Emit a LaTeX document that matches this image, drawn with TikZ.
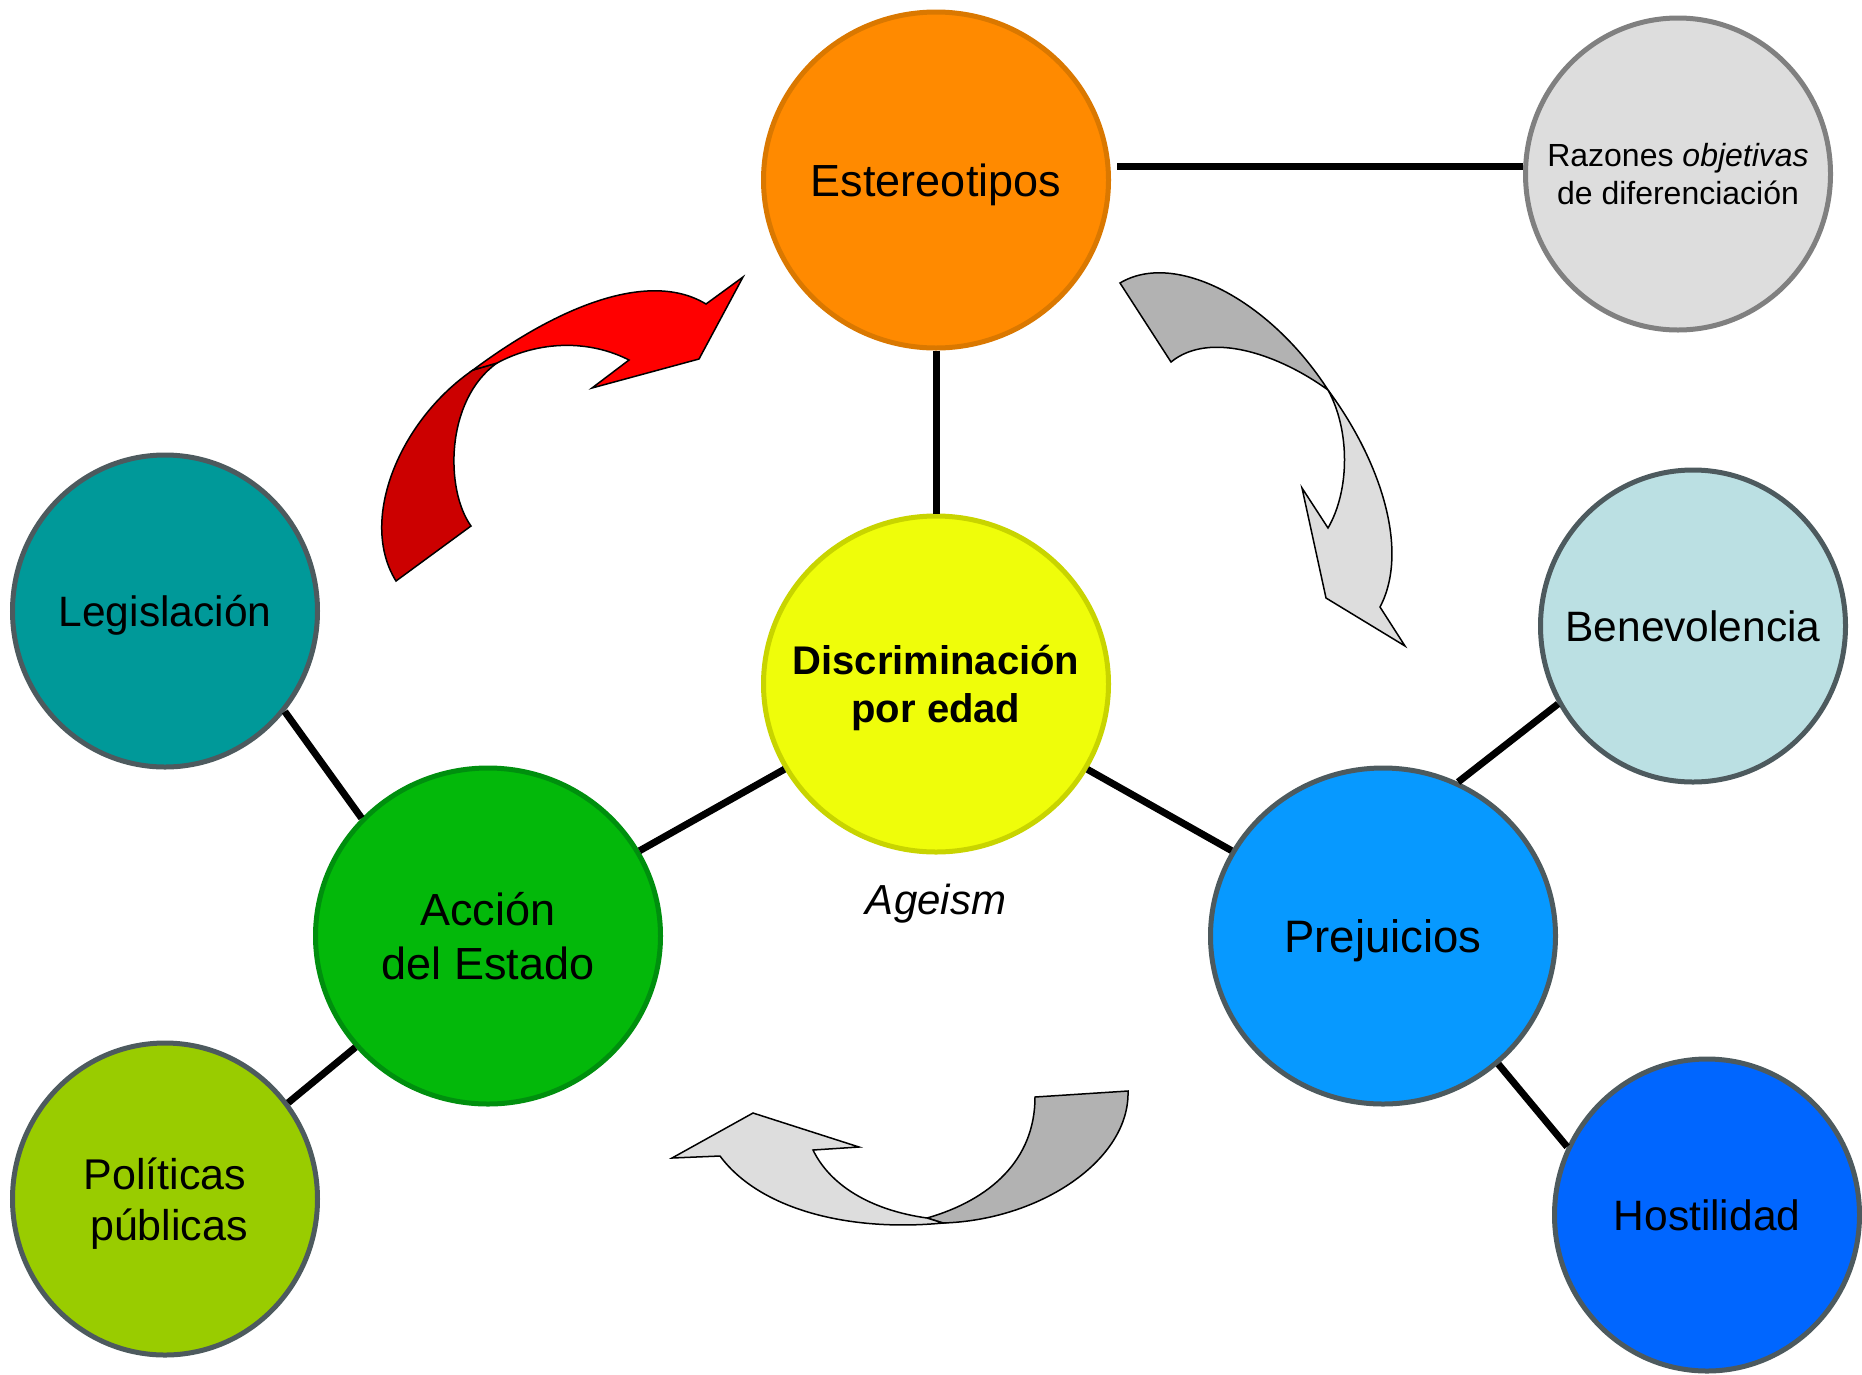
\documentclass[tikz,border=0pt]{standalone}
\usepackage{fontspec}
\setmainfont{Liberation Sans}
\usetikzlibrary{shapes.geometric}
\definecolor{cOrange}{HTML}{FF8A00}
\definecolor{cOrangeD}{HTML}{DA7800}
\definecolor{cGray}{HTML}{DDDDDD}
\definecolor{cGrayD}{HTML}{808080}
\definecolor{cYellow}{HTML}{EFFD0A}
\definecolor{cYellowD}{HTML}{C8D400}
\definecolor{cTeal}{HTML}{009999}
\definecolor{cSlate}{HTML}{4D5A5E}
\definecolor{cGreen}{HTML}{03B80A}
\definecolor{cGreenD}{HTML}{008F0E}
\definecolor{cLime}{HTML}{99CC00}
\definecolor{cBlue}{HTML}{0799FF}
\definecolor{cBlueB}{HTML}{0066FF}
\definecolor{cPale}{HTML}{BBE0E3}
\definecolor{cRed}{HTML}{FF0000}
\definecolor{cRedD}{HTML}{CC0000}
\definecolor{cRibD}{HTML}{B2B2B2}
\definecolor{cRibL}{HTML}{DDDDDD}
\begin{document}
\begin{tikzpicture}[x=1pt,y=-1pt,
  bubble/.style={ellipse, draw, line width=5pt, inner sep=-90pt, align=center,
    text depth=0pt, font=\fontsize{44}{52}\selectfont},
  bigbub/.style={bubble, minimum width=345pt, minimum height=336pt},
  smallbub/.style={bubble, minimum width=305pt, minimum height=312pt},
  conn/.style={line width=7pt},
  ribbon/.style={draw=black, line width=1.5pt}]
\useasboundingbox (0,0) rectangle (1862,1374);

% nodes
\node[bigbub, fill=cOrange, draw=cOrangeD, font=\fontsize{45}{52}\selectfont] (est) at (936,180) {Estereotipos};
\node[smallbub, fill=cGray, draw=cGrayD, font=\fontsize{32}{38}\selectfont] (raz) at (1678,174) {Razones \textit{objetivas}\\de diferenciación};
\node[bigbub, fill=cYellow, draw=cYellowD, font=\bfseries\fontsize{40}{47.5}\selectfont] (disc) at (936,684) {Discriminación\\por edad};
\node[font=\itshape\fontsize{42}{50}\selectfont, text depth=0pt] (ageism) at (936,899) {Ageism};
\node[smallbub, fill=cTeal, draw=cSlate, font=\fontsize{42.5}{52}\selectfont] (leg) at (165,611) {Legislación};
\node[bigbub, fill=cGreen, draw=cGreenD, font=\fontsize{45}{54}\selectfont] (acc) at (488,936) {Acción\\del Estado};
\node[smallbub, fill=cLime, draw=cSlate, font=\fontsize{43}{51}\selectfont] (pol) at (165,1199) {Políticas\\\hspace*{8pt}públicas};
\node[bigbub, fill=cBlue, draw=cSlate, font=\fontsize{45.5}{52}\selectfont] (prej) at (1383,936) {Prejuicios};
\node[smallbub, fill=cPale, draw=cSlate, font=\fontsize{42.5}{52}\selectfont] (ben) at (1693,626) {Benevolencia};
\node[smallbub, fill=cBlueB, draw=cSlate, font=\fontsize{42.5}{52}\selectfont] (host) at (1707,1215) {Hostilidad};

% connectors
\draw[conn] ([shift={(6,-14)}]est.east) -- ([shift={(0,-8)}]raz.west);
\draw[conn] (est) -- (disc);
\draw[conn] (disc) -- (acc);
\draw[conn] (disc) -- (prej);
\draw[conn] (leg.-40) -- (acc.137);
\draw[conn] (acc.220) -- (pol.38);
\draw[conn] (prej.64) -- (ben.210);
\draw[conn] (prej.-48) -- (host.154);

% red curved arrow
\filldraw[ribbon, fill=cRedD]
  (473,370) .. controls (400,420) and (358,520) .. (396,581)
  -- (471,526) .. controls (445,490) and (445,400) .. (497,363)
  -- cycle;
\filldraw[ribbon, fill=cRed]
  (473,370) .. controls (560,305) and (650,270) .. (706,304)
  -- (743,277) -- (699,359) -- (592,388) -- (629,360)
  .. controls (590,340) and (540,340) .. (497,363)
  -- cycle;

% top-right gray arrow
\filldraw[ribbon, fill=cRibD]
  (1120,283) .. controls (1175,250) and (1270,300) .. (1328,390)
  .. controls (1280,355) and (1210,330) .. (1171,362)
  -- cycle;
\filldraw[ribbon, fill=cRibL]
  (1328,390) .. controls (1380,460) and (1410,550) .. (1380,607)
  -- (1405,646) -- (1326,598) -- (1302,488) -- (1328,528)
  .. controls (1350,490) and (1350,430) .. (1328,390)
  -- cycle;

% bottom gray arrow
\filldraw[ribbon, fill=cRibD]
  (927,1218) .. controls (990,1200) and (1035,1160) .. (1035,1097)
  -- (1128,1091) .. controls (1130,1160) and (1040,1220) .. (943,1223)
  -- cycle;
\filldraw[ribbon, fill=cRibL]
  (943,1223) .. controls (850,1232) and (760,1210) .. (720,1156)
  -- (672,1158) -- (753,1113) -- (859,1147) -- (813,1150)
  .. controls (830,1185) and (870,1210) .. (927,1218)
  -- cycle;
\end{tikzpicture}
\end{document}
